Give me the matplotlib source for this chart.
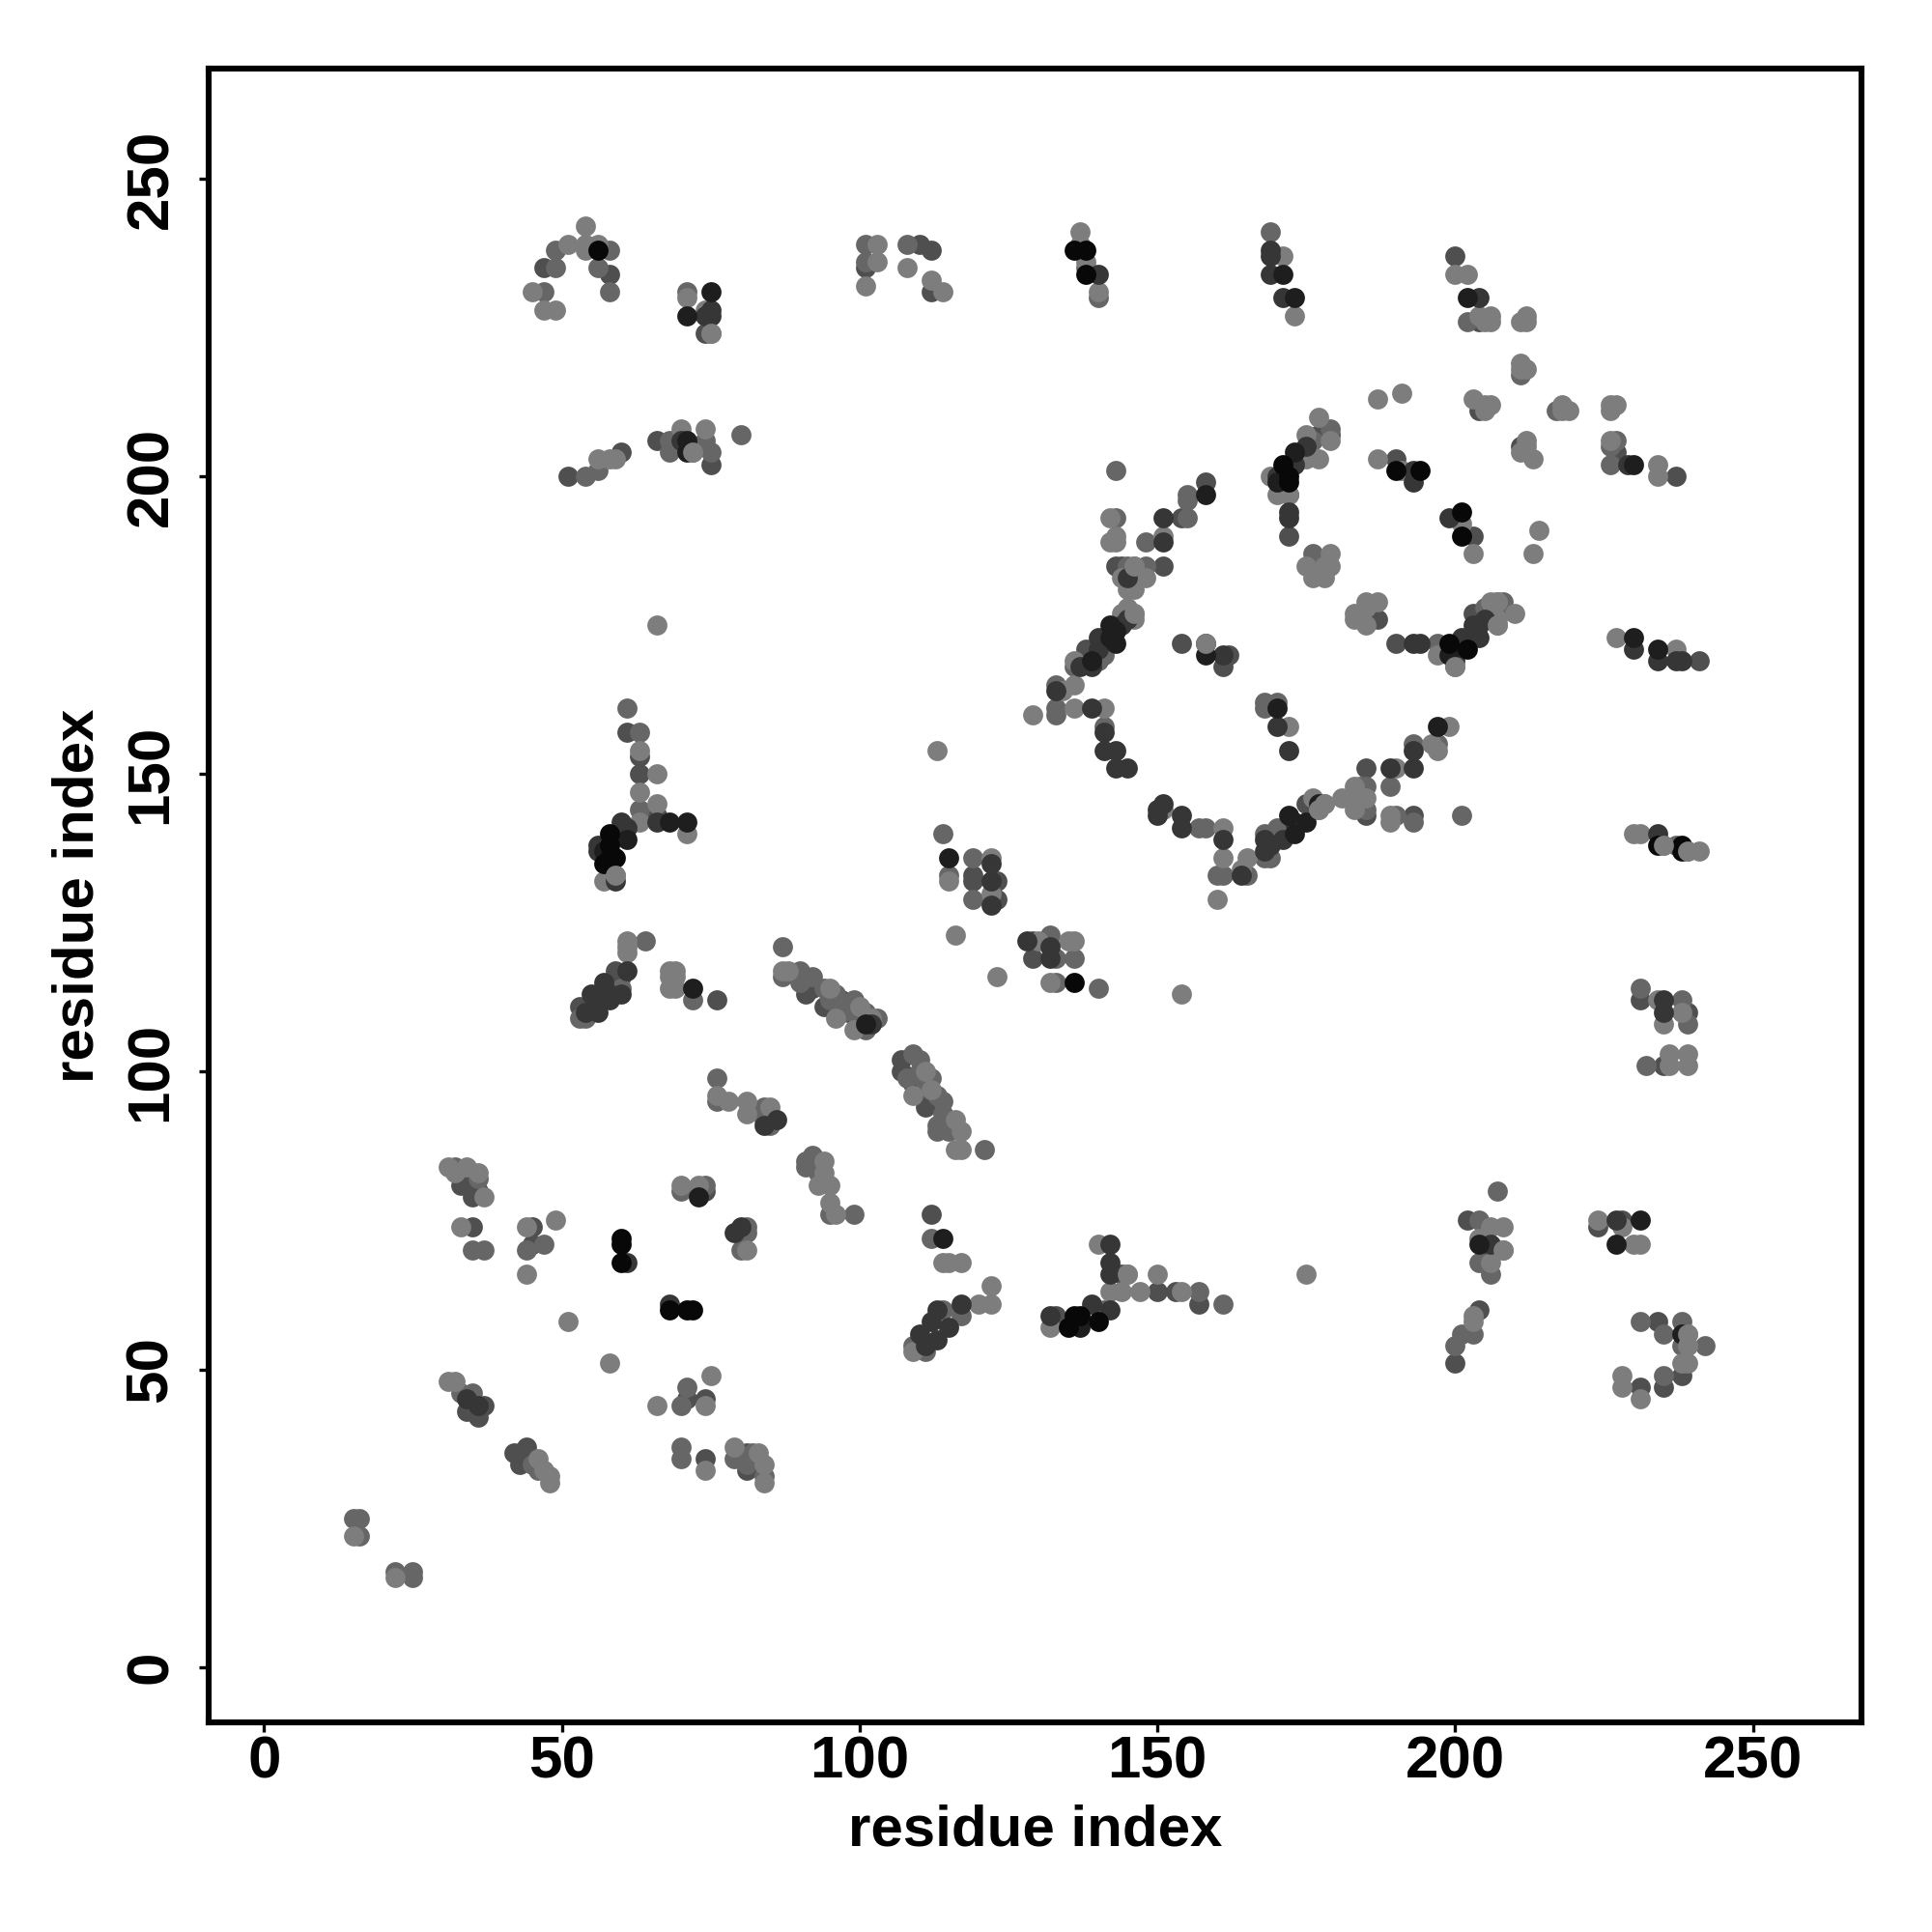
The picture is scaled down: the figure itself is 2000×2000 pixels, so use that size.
import matplotlib
matplotlib.use("Agg")
import matplotlib.pyplot as plt

plt.rcParams['font.family'] = ['Liberation Sans', 'DejaVu Sans']

# contacts, (residue i, residue j), grouped by grey level
black_pts = [(56,238),(138,238),(136,238),(58,140),(58,138),(59,136),(57,135),(58,136),(60,72),(60,71),
    (60,68),(68,60),(71,60),(72,60),(140,58),(137,59),(136,59),(135,57),(172,200),(171,202),(194,201),
    (190,201),(201,194),(201,190),(199,172),(202,171),(238,138),(238,137),(234,138),(138,234),(136,115),(172,199)]

vdark_pts = [(75,231),(71,227),(71,204),(71,206),(68,142),(71,142),(61,139),(57,137),(115,136),(72,114),
    (73,79),(114,72),(231,75),(227,71),(204,71),(171,234),(173,230),(202,230),(173,204),(170,199),(158,197),
    (142,175),(143,174),(142,173),(143,172),(139,169),(158,170),(199,170),(172,143),(175,142),(173,140),
    (170,161),(197,158),(230,173),(230,202),(234,171),(238,56),(101,108),(137,57),(177,145)]

dark_pts = [(75,228),(75,227),(74,227),(70,206),(60,142),(61,141),(59,140),(56,138),(56,137),(59,132),
    (66,142),(61,117),(57,115),(58,113),(60,113),(55,113),(56,112),(58,112),(56,110),(54,110),
    (102,108),(84,91),(86,92),(122,132),(122,128),(132,121),(132,119),(128,122),
    (79,73),(80,74),(113,60),(117,61),(115,57),(112,58),(113,55),(110,56),(111,54),
    (34,45),(36,44),(61,68),(68,61),(142,71),(142,68),(142,66),(132,59),
    (139,61),(142,60),(206,71),(227,75),(169,238),(169,237),(169,234),(171,230),(140,234),(204,230),(175,205),
    (173,202),(171,200),(170,200),(172,194),(172,193),(193,201),(193,199),(199,193),(151,193),(151,189),
    (145,183),(145,176),(144,175),(140,173),(140,171),(137,168),(139,168),(133,164),(139,161),(141,157),
    (141,154),(143,154),(143,151),(145,151),(158,172),(161,170),(170,158),(172,154),(193,154),(189,151),
    (193,151),(173,142),(171,139),(168,139),(169,138),(168,137),(151,145),(150,144),(150,143),(154,143),
    (154,141),(161,139),(164,133),(234,140),(235,112),(235,110),(193,172),(194,172),(201,173),(201,171),
    (204,173),(203,175),(204,175),(205,176),(230,171),(234,169),(237,169),(238,169),(229,202),(200,169),(122,135)]

darkmid_pts = [(58,234),(74,224),(51,200),(60,204),(75,202),(63,153),(63,150),(53,111),(59,117),(60,116),
    (76,112),(91,113),(92,114),(94,111),(107,100),(111,94),(119,133),(119,132),(123,132),(123,129),(129,122),
    (129,119),(35,74),(45,74),(45,71),(34,82),(74,80),(112,76),(36,42),(37,44),(34,43),(42,36),(43,34),
    (74,45),(74,35),(81,33),(71,45),(144,66),(150,63),(153,63),(157,61),(133,59),(202,75),(224,74),(228,75),
    (206,70),(200,51),(204,60),(234,58),(238,49),(235,47),(231,47),(200,237),(204,226),(204,211),(211,205),
    (227,204),(237,200),(179,207),(177,207),(172,197),(172,190),(190,203),(203,190),(158,199),(154,193),
    (143,185),(144,185),(151,185),(138,171),(154,172),(162,170),(161,168),(190,172),(185,151),(183,145),
    (185,143),(175,145),(171,141),(193,143),(203,177),(231,112),(239,110),(235,101),(241,169),(187,176),
    (47,235),(66,206),(61,157),(66,143),(101,235),(110,239),(112,238),(112,231),
    (107,102),(98,110),(112,96),(97,112),(109,98),(33,81),(35,79),(36,80),(43,36),(44,37),(44,35),(81,36)]

mid_pts = [(49,238),(58,238),(49,235),(56,235),(47,231),(58,231),(71,231),(54,200),(56,201),(68,206),(68,204),
    (74,206),(75,204),(80,207),(61,161),(63,157),(63,144),(53,109),(54,109),(60,114),(64,122),(72,112),
    (87,121),(87,116),(90,117),(90,115),(92,116),(99,112),(97,111),(101,110),(101,107),(103,109),(84,94),
    (84,92),(85,91),(76,95),(76,99),(109,103),(110,102),(108,99),(112,99),(114,95),(113,91),(113,90),(121,87),
    (92,86),(91,85),(91,84),(93,83),(95,76),(99,76),(32,84),(36,82),(37,70),(35,70),(44,70),(47,71),
    (70,80),(74,81),(81,74),(80,70),(81,73),(112,72),(114,60),(109,54),(111,53),(35,46),(71,47),(70,44),
    (45,34),(46,33),(70,37),(70,35),(79,35),(82,36),(81,34),(84,32),(15,25),(16,25),(16,22),(22,16),(25,16),
    (25,15),(141,60),(157,63),(161,61),(207,80),(204,75),(204,68),(206,66),(201,56),(200,54),(203,56),(231,58),
    (238,58),(235,56),(238,54),(242,54),(235,49),(140,230),(138,235),(169,241),(202,226),(211,217),(217,211),
    (226,205),(226,202),(176,206),(179,208),(143,201),(155,197),(155,196),(155,193),(143,193),(148,189),
    (145,185),(148,185),(146,183),(141,170),(140,169),(136,168),(133,165),(133,161),(133,160),(141,158),
    (176,187),(176,184),(208,179),(207,177),(206,176),(205,178),(197,172),(168,162),(170,162),(168,161),
    (197,155),(193,155),(189,148),(185,148),(184,148),(185,144),(190,143),(193,142),(201,143),(170,141),(168,140),
    (168,136),(169,136),(157,141),(158,141),(160,133),(161,133),(165,133),(237,138),(231,114),(238,112),(239,108),
    (232,101),(227,206),(101,239),(101,236),(108,239),(136,119),(133,119),(133,115),(140,114),(114,140),(115,133),
    (119,136),(119,129),(132,123),(33,46),(117,59),
    (94,114),(96,113),(95,112),(97,110),(99,110),(100,109),(110,100),(111,98),(113,96),(114,93),(115,92),(115,90)]

pale_pts = [(54,242),(51,239),(54,239),(56,239),(54,238),(45,231),(47,228),(49,228),(71,230),(74,228),(75,224),
    (56,203),(58,203),(59,203),(70,208),(72,204),(74,208),(66,175),(63,154),(66,150),(63,147),(66,145),(63,142),
    (71,140),(57,132),(59,133),(61,122),(61,121),(61,120),(68,117),(69,117),(68,116),(69,116),(68,114),(69,114),
    (87,117),(88,117),(95,114),(96,109),(100,111),(99,107),(102,109),(76,96),(78,95),(81,95),(81,93),(85,94),
    (111,100),(112,97),(109,96),(116,92),(117,90),(116,87),(117,87),(113,154),(115,132),(122,136),(122,130),
    (116,123),(130,122),(135,122),(136,122),(123,116),(132,115),(31,84),(34,84),(36,83),(32,83),(37,79),(94,85),
    (94,83),(93,81),(95,81),(95,78),(96,76),(33,74),(44,74),(49,75),(44,66),(70,81),(73,81),(81,70),(114,68),
    (115,68),(117,68),(51,58),(58,51),(122,64),(120,61),(122,61),(109,53),(31,48),(32,48),(66,44),(74,44),(75,49),
    (46,35),(47,33),(48,32),(48,31),(74,33),(79,37),(83,36),(84,34),(84,31),(15,22),(22,15),(145,66),(142,63),
    (144,63),(147,63),(150,66),(154,63),(140,71),(132,57),(175,66),(206,74),(208,74),(204,72),(208,70),(206,68),
    (224,75),(228,74),(230,71),(231,71),(203,59),(203,58),(239,56),(239,54),(238,51),(239,51),(228,49),(228,47),
    (231,45),(137,241),(137,239),(138,236),(140,231),(171,237),(173,227),(200,234),(202,234),(204,227),(206,227),
    (206,226),(205,226),(212,227),(211,226),(212,226),(211,219),(212,218),(211,218),(187,213),(191,214),(203,213),
    (205,212),(206,212),(205,211),(218,212),(219,211),(218,211),(226,212),(227,212),(226,211),(212,206),(212,205),
    (211,204),(213,203),(226,206),(234,202),(234,200),(177,210),(175,207),(179,206),(177,203),(175,203),(169,200),
    (170,197),(187,203),(191,201),(201,192),(203,187),(214,191),(213,187),(142,193),(142,189),(143,190),(143,189),
    (151,190),(146,185),(144,183),(148,183),(145,181),(146,181),(145,178),(146,177),(144,177),(146,176),(136,169),
    (136,165),(134,164),(129,160),(136,161),(141,161),(185,179),(187,179),(185,178),(183,177),(184,177),(183,176),
    (185,175),(179,187),(175,185),(179,185),(178,185),(176,183),(178,183),(197,170),(200,168),(207,175),(206,179),
    (207,179),(210,177),(207,176),(227,173),(237,171),(172,158),(199,158),(197,154),(196,155),(190,151),(183,148),
    (183,146),(185,146),(181,146),(183,144),(189,143),(189,142),(178,145),(176,146),(177,144),(151,144),(161,141),
    (161,136),(160,129),(165,136),(164,134),(154,113),(230,140),(231,140),(235,138),(239,137),(241,137),(234,112),
    (238,110),(235,108),(236,103),(239,103),(236,101),(239,101),(103,239),(103,236),(101,232),(108,235),(112,233),
    (114,231),(172,197)]

# pale dots that sit on top of the dark ones
over_pts = [(75,224),(59,133),(72,204),(235,138),(239,137),(145,66),(208,70),(239,56),(239,54),(158,172),(207,179),
    (146,177),(146,185),(207,175),(200,168),(178,145),(177,144)]

x_ticks = [0, 50, 100, 150, 200, 250]
y_ticks = [0, 50, 100, 150, 200, 250]
axis_label = "residue index"

layers = [(darkmid_pts, "#4f4f4f"), (mid_pts, "#666666"), (pale_pts, "#7d7d7d"),
          (dark_pts, "#363636"), (vdark_pts, "#1e1e1e"), (black_pts, "#080808"), (over_pts, "#7d7d7d")]

fig = plt.figure(figsize=(10, 10), dpi=200)
ax = fig.add_axes([216/2000, 1-1783/2000, (1927-216)/2000, (1783-71)/2000])

for pts, col in layers:
    xs = [p[0] for p in pts]
    ys = [p[1] for p in pts]
    ax.scatter(xs, ys, s=56, color=col, linewidths=0, zorder=2)

ax.set_xlim(-9.3, 268.2)
ax.set_ylim(-9.3, 268.5)

ax.set_xticks(x_ticks)
ax.set_yticks(y_ticks)
ax.tick_params(axis='both', length=3.6, width=1.2, labelsize=22.3)
ax.tick_params(axis='x', pad=1.1)
ax.tick_params(axis='y', pad=7.2)
for lab in ax.get_xticklabels():
    lab.set_fontweight('bold')
for lab in ax.get_yticklabels():
    lab.set_fontweight('bold')
    lab.set_rotation(90)
    lab.set_va('center')

for sp in ax.spines.values():
    sp.set_linewidth(2.2)

ax.set_xlabel(axis_label, fontsize=21.6, fontweight='bold')
ax.set_ylabel(axis_label, fontsize=21.6, fontweight='bold')
ax.xaxis.set_label_coords(0.5, -0.0495)
ax.yaxis.set_label_coords(-0.063, 0.5)

fig.savefig("out.png", dpi=200)
